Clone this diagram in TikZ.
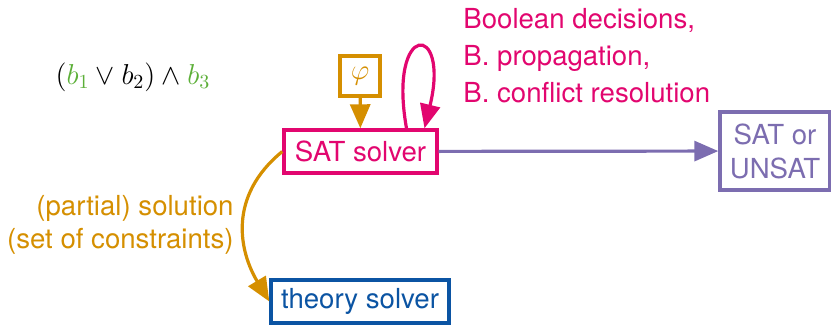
\documentclass[tikz,border=0pt]{standalone}
\usepackage{fontspec}
\setmainfont{TeX Gyre Heros}
\usetikzlibrary{arrows.meta,positioning,calc}
\definecolor{satcol}{HTML}{E2066F}
\definecolor{thcol}{HTML}{D58F00}
\definecolor{rescol}{HTML}{7C6DB0}
\definecolor{tscol}{HTML}{0B54A3}
\definecolor{varcol}{HTML}{5CAF38}

\begin{document}
\begin{tikzpicture}[
  x=0.5pt,y=-0.5pt,
  font=\fontsize{13.8}{17}\selectfont,
  box/.style={draw,line width=1.7pt,fill=white,align=center,inner sep=0pt},
  arrow/.style={-{Triangle[length=12pt,width=10pt]},line width=1.6pt}
]
\useasboundingbox (0,0) rectangle (831,325);
\node (formula) at (133,77) {$(\textcolor{varcol}{b_1}\vee b_2)\wedge\textcolor{varcol}{b_3}$};
\node[box,draw=thcol,text=thcol,minimum width=20pt,minimum height=20pt] (phi) at (360,76) {$\varphi$};
\node[box,draw=satcol,text=satcol,minimum width=76.5pt,minimum height=21.5pt] (sat) at (360.5,151.5) {SAT solver};
\node[box,draw=rescol,text=rescol,minimum width=55pt,minimum height=39pt] (result) at (775,151) {SAT or\\UNSAT};
\node[box,draw=tscol,text=tscol,minimum width=89pt,minimum height=21.5pt] (theory) at (360,301.5) {theory solver};
\node[anchor=west,align=left,text=satcol,inner sep=0pt,font=\fontsize{13.8}{18.5}\selectfont] (steps) at (463,56) {Boolean decisions,\\B. propagation,\\B. conflict resolution};
\node[anchor=east,align=right,text=thcol,inner sep=0pt,font=\fontsize{13.8}{16.5}\selectfont] (partial) at (234,225) {(partial) solution\\(set of constraints)};
% connectors
\draw[arrow,thcol] (phi) -- (sat);
\draw[arrow,satcol] ([xshift=23pt]sat.north) .. controls +(-9.5pt,53.5pt) and +(13pt,53.5pt) .. ([xshift=32pt]sat.north);
\draw[arrow,rescol] (sat) -- (result);
\draw[arrow,thcol] (sat.west) .. controls +(-27.5pt,-22.5pt) and +(-15pt,25pt) .. (theory.west);
\end{tikzpicture}
\end{document}
